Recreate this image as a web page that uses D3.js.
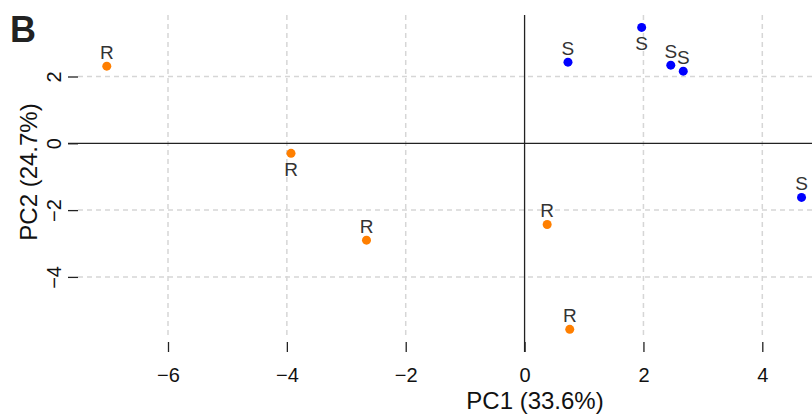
<!DOCTYPE html>
<html>
<head>
<meta charset="utf-8">
<script src="https://cdn.jsdelivr.net/npm/d3@7"></script>
<style>
  body { margin: 0; background: #fff; }
  svg { font-family: "Liberation Sans", Arial, sans-serif; }
</style>
</head>
<body>
<div id="chart"></div>
<script>
// PCA scores
var pc1 = [-7.03, -3.93, -2.66, 0.38, 0.76, 0.73, 1.97, 2.46, 2.67, 4.66];
var pc2 = [2.31, -0.30, -2.90, -2.43, -5.57, 2.43, 3.47, 2.34, 2.16, -1.62];
var group = ["R", "R", "R", "R", "R", "S", "S", "S", "S", "S"];
var labelSide = ["up", "down", "up", "up", "up", "up", "down", "up", "up", "up"];
var xTicks = [-6, -4, -2, 0, 2, 4];
var yTicks = [-4, -2, 0, 2];

var colors = {R: "#ff7f00", S: "#0000ff"};

var width = 812, height = 414;
var plot = {left: 78, right: 812, top: 15, bottom: 337};

var x = d3.scaleLinear().domain([-6, 4]).range([168, 762.3]);
var y = d3.scaleLinear().domain([-4, 2]).range([276.9, 76.5]);

var fmt = function(d) { return d < 0 ? "\u2212" + Math.abs(d) : d; };

var svg = d3.select("#chart").append("svg")
    .attr("width", width)
    .attr("height", height);

// dashed grid
svg.append("g").selectAll("line")
    .data(xTicks.filter(function(d) { return d != 0; }))
  .enter().append("line")
    .attr("x1", function(d) { return x(d); })
    .attr("x2", function(d) { return x(d); })
    .attr("y1", plot.top)
    .attr("y2", plot.bottom)
    .attr("stroke", "#d6d6d6")
    .attr("stroke-width", 1.5)
    .attr("stroke-dasharray", "5,4");

svg.append("g").selectAll("line")
    .data(yTicks.filter(function(d) { return d != 0; }))
  .enter().append("line")
    .attr("x1", plot.left)
    .attr("x2", plot.right)
    .attr("y1", function(d) { return y(d); })
    .attr("y2", function(d) { return y(d); })
    .attr("stroke", "#d6d6d6")
    .attr("stroke-width", 1.5)
    .attr("stroke-dasharray", "5,4");

// zero lines
svg.append("line")
    .attr("x1", plot.left - 10).attr("x2", plot.right)
    .attr("y1", y(0)).attr("y2", y(0))
    .attr("stroke", "#222").attr("stroke-width", 1.3);
svg.append("line")
    .attr("x1", x(0)).attr("x2", x(0))
    .attr("y1", plot.top).attr("y2", plot.bottom + 15)
    .attr("stroke", "#222").attr("stroke-width", 1.3);

// axes (ticks only, no domain line)
var gx = svg.append("g")
    .attr("transform", "translate(0," + (plot.bottom + 5) + ")")
    .call(d3.axisBottom(x).tickValues(xTicks).tickSize(10).tickFormat(fmt));
gx.select(".domain").remove();
gx.selectAll("line").attr("stroke", "#222").attr("stroke-width", 1.3);
gx.selectAll("text")
    .attr("font-size", 20).attr("fill", "#111")
    .attr("font-family", "Liberation Sans, Arial, sans-serif")
    .attr("dy", null).attr("y", 40);

var gy = svg.append("g")
    .attr("transform", "translate(" + plot.left + ",0)")
    .call(d3.axisLeft(y).tickValues(yTicks).tickSize(10).tickFormat(fmt));
gy.select(".domain").remove();
gy.selectAll("line").attr("stroke", "#222").attr("stroke-width", 1.3);
gy.selectAll("text")
    .attr("font-size", 20).attr("fill", "#111")
    .attr("font-family", "Liberation Sans, Arial, sans-serif")
    .attr("x", null).attr("dy", null)
    .attr("text-anchor", "middle")
    .attr("transform", "translate(-17,0) rotate(-90)")
    .attr("y", 0);

// points
var idx = d3.range(pc1.length);
svg.append("g").selectAll("circle")
    .data(idx)
  .enter().append("circle")
    .attr("cx", function(i) { return x(pc1[i]); })
    .attr("cy", function(i) { return y(pc2[i]); })
    .attr("r", 4.5)
    .attr("fill", function(i) { return colors[group[i]]; });

svg.append("g").selectAll("text")
    .data(idx)
  .enter().append("text")
    .attr("x", function(i) { return x(pc1[i]); })
    .attr("y", function(i) { return y(pc2[i]) + (labelSide[i] == "up" ? -7.5 : 22.5); })
    .attr("text-anchor", "middle")
    .attr("font-size", 19)
    .attr("fill", "#333")
    .text(function(i) { return group[i]; });

// titles
svg.append("text")
    .attr("x", 535).attr("y", 409)
    .attr("text-anchor", "middle")
    .attr("font-size", 24).attr("fill", "#111")
    .text("PC1 (33.6%)");
svg.append("text")
    .attr("transform", "translate(37,172) rotate(-90)")
    .attr("text-anchor", "middle")
    .attr("font-size", 24).attr("fill", "#111")
    .text("PC2 (24.7%)");

svg.append("text")
    .attr("x", 10).attr("y", 42)
    .attr("font-size", 36).attr("font-weight", "bold").attr("fill", "#222")
    .text("B");
</script>
</body>
</html>
